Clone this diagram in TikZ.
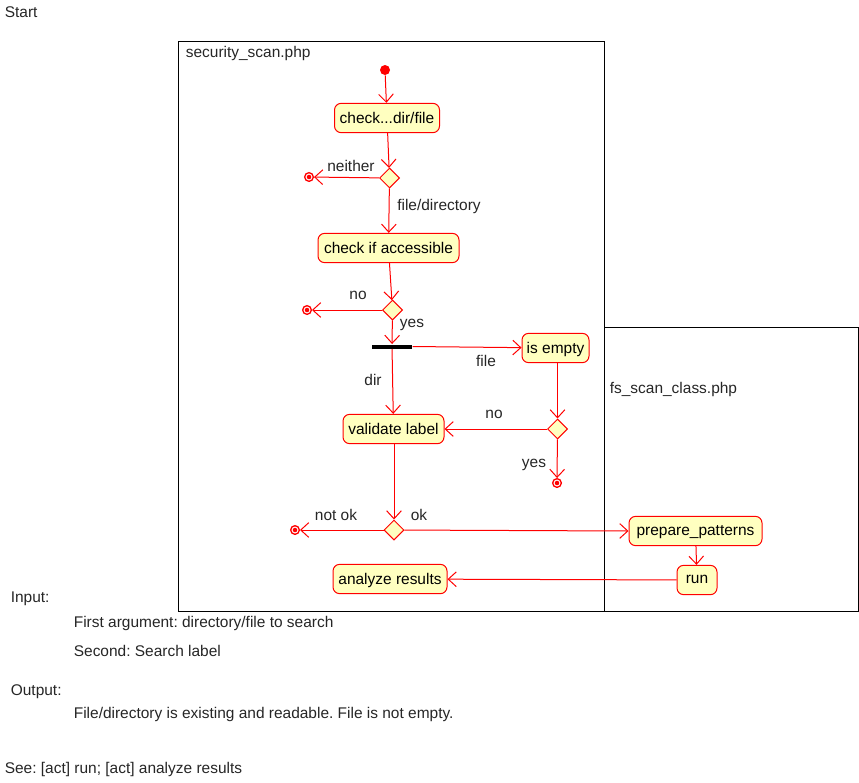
\documentclass[tikz,border=0pt]{standalone}
\usepackage{fontspec}
\setmainfont{Liberation Sans}
\usetikzlibrary{shapes.geometric,arrows.meta}
\definecolor{actfill}{RGB}{255,255,192}
\frenchspacing
\begin{document}
\begin{tikzpicture}[x=0.75pt,y=-0.75pt,
  font=\fontsize{11.6pt}{13pt}\selectfont,
  line width=0.75pt,
  act/.style={draw=red,fill=actfill,rounded corners=5pt,inner xsep=3pt,inner ysep=0pt,minimum height=22pt,text depth=0.5pt},
  dec/.style={draw=red,fill=actfill,diamond,minimum width=15pt,minimum height=15pt,inner sep=0pt},
  fin/.style={circle,draw=red,line width=1pt,fill=white,minimum size=6.5pt,inner sep=0pt},
  flow/.style={draw=red,-{Straight Barb[length=6pt,width=11pt]}},
  lbl/.style={inner sep=1pt,text=black!85},
  lane/.style={draw=black,line width=0.75pt}
]
\useasboundingbox (0,0) rectangle (859,782);
\node[lbl,anchor=west] (start) at (3,12) {Start};
% swimlanes
\draw[lane] (178,41) rectangle (604,611);
\draw[lane] (604,327) rectangle (858,611);
\node[lbl,anchor=west] (lane1) at (184,53) {security\_scan.php};
\node[lbl,anchor=west] (lane2) at (608,389) {fs\_scan\_class.php};
% nodes
\node[circle,fill=red,minimum size=7.5pt,inner sep=0pt] (init) at (385,70) {};
\node[act,minimum width=78.75pt] (chk1) at (387,118) {check...dir/file};
\node[dec] (d1) at (389.5,178) {};
\node[fin] (e1) at (309,177) {};
\node[act,minimum width=105.75pt] (chk2) at (388.5,248) {check if accessible};
\node[dec] (d2) at (392.5,310) {};
\node[fin] (e2) at (307,310) {};
\node[fill=black,minimum width=30pt,minimum height=3pt,inner sep=0pt] (bar) at (392,346.5) {};
\node[act,minimum width=50.25pt] (empty) at (555.5,348) {is empty};
\node[act,minimum width=75.75pt] (valid) at (393.5,429) {validate label};
\node[dec] (d3) at (557.5,429) {};
\node[fin] (e3) at (557,483) {};
\node[dec] (d4) at (394,530) {};
\node[fin] (e4) at (295,530) {};
\node[act,minimum width=99.75pt] (prep) at (695.5,531) {prepare\_patterns};
\node[act,minimum width=30pt] (run) at (697,580) {run};
\node[act,minimum width=85.5pt] (anal) at (390,579) {analyze results};
\foreach \e in {e1,e2,e3,e4} \fill[red] (\e.center) circle (1.7pt);
% connectors
\draw[flow] (init) -- (chk1);
\draw[flow] (chk1) -- (d1);
\draw[flow] (d1) -- (e1);
\draw[flow] (d1) -- (chk2);
\draw[flow] (chk2) -- (d2);
\draw[flow] (d2) -- (e2);
\draw[flow] (d2) -- (bar);
\draw[flow] (bar.east) -- (empty);
\draw[flow] (bar) -- (valid);
\draw[flow] (empty.south -| d3) -- (d3);
\draw[flow] (d3) -- (valid);
\draw[flow] (d3) -- (e3);
\draw[flow] (valid.south -| d4) -- (d4);
\draw[flow] (d4) -- (e4);
\draw[flow] (d4) -- (prep.west);
\draw[flow] (prep) -- (run);
\draw[flow] (run) -- (anal);
% labels
\node[lbl] (lneither) at (351,166) {neither};
\node[lbl] (lfd) at (439,206) {file/directory};
\node[lbl] (lno1) at (358,295) {no};
\node[lbl] (lyes1) at (412,325) {yes};
\node[lbl] (lfile) at (486,361) {file};
\node[lbl] (ldir) at (373,380) {dir};
\node[lbl] (lno2) at (494,414) {no};
\node[lbl] (lyes2) at (534,465) {yes};
\node[lbl] (lnotok) at (336,515) {not ok};
\node[lbl] (lok) at (419,515) {ok};
% notes
\node[lbl,anchor=west] (inp) at (9,599) {Input:};
\node[lbl,anchor=west] (inp1) at (72,623) {First argument: directory/file to search};
\node[lbl,anchor=west] (inp2) at (72,651) {Second: Search label};
\node[lbl,anchor=west] (outp) at (9,692) {Output:};
\node[lbl,anchor=west] (outp1) at (72,714) {File/directory is existing and readable. File is not empty.};
\node[lbl,anchor=west] (see) at (3,769) {See: [act] run; [act] analyze results};
\end{tikzpicture}
\end{document}
